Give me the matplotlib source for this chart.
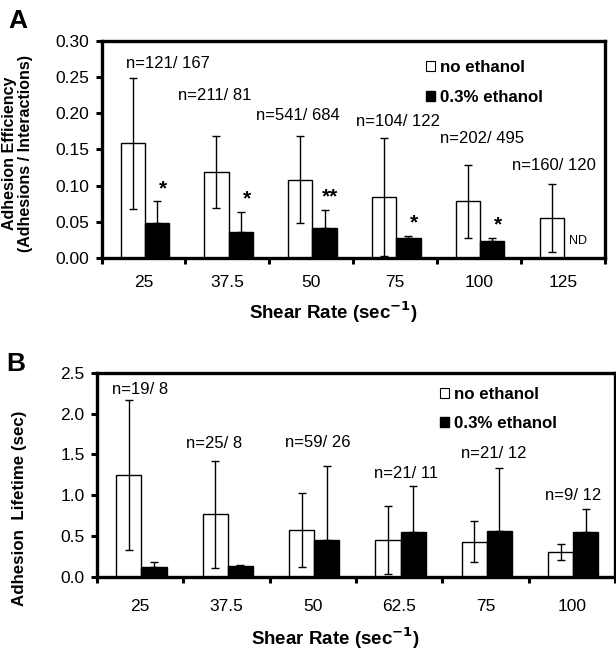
"""
Adhesion efficiency and adhesion lifetime vs shear rate, with / without ethanol
"""

import numpy as np
import matplotlib.pyplot as plt
from matplotlib.patches import Patch

plt.rcParams['font.family'] = ['Liberation Sans', 'DejaVu Sans']

# panel A - adhesion efficiency
rates_a = ['25', '37.5', '50', '75', '100', '125']
eff_none = [0.158, 0.119, 0.108, 0.084, 0.078, 0.055]
eff_none_sd = [0.090, 0.050, 0.060, 0.081, 0.050, 0.047]
eff_eth = [0.048, 0.036, 0.042, 0.027, 0.024, np.nan]
eff_eth_sd = [0.030, 0.028, 0.024, 0.003, 0.003, np.nan]
n_a = ['n=121/ 167', 'n=211/ 81', 'n=541/ 684', 'n=104/ 122', 'n=202/ 495', 'n=160/ 120']
sig_a = ['*', '*', '**', '*', '*', 'ND']

# panel B - adhesion lifetime (sec)
rates_b = ['25', '37.5', '50', '62.5', '75', '100']
life_none = [1.246, 0.764, 0.572, 0.446, 0.430, 0.300]
life_none_sd = [0.915, 0.655, 0.455, 0.415, 0.250, 0.100]
life_eth = [0.123, 0.130, 0.446, 0.544, 0.560, 0.544]
life_eth_sd = [0.053, 0.010, 0.914, 0.571, 0.770, 0.282]
n_b = ['n=19/ 8', 'n=25/ 8', 'n=59/ 26', 'n=21/ 11', 'n=21/ 12', 'n=9/ 12']

# where the n= labels sit (x offset from category, y in data units)
n_pos_a = [(0.29, 0.268), (-0.15, 0.224), (-0.16, 0.197), (0.04, 0.189), (0.04, 0.165), (-0.10, 0.128)]
n_pos_b = [(0.0, 2.30), (-0.14, 1.63), (0.06, 1.65), (0.08, 1.27), (0.10, 1.51), (0.01, 1.0)]

W = 0.29
TICKSIZE = 12.5
NSIZE = 12
XLABSIZE = 13.5
XLAB = 'Shear Rate (sec$^{\\mathbf{-1}}$)'


def draw_bars(ax, cats, none, none_sd, eth, eth_sd, spacing):
    """
    white / black bar pairs with error bars
    """
    x = np.arange(len(cats))
    ax.bar(x - 0.13, none, W, color='white', edgecolor='black', linewidth=1, zorder=2)
    ax.errorbar(x - 0.13, none, yerr=none_sd, fmt='none', ecolor='black',
                elinewidth=1, capsize=3, capthick=1, zorder=3)
    ax.bar(x + 0.16, eth, W, color='black', edgecolor='black', linewidth=1, zorder=2)
    ax.errorbar(x + 0.16, eth, yerr=[np.zeros(len(cats)), eth_sd], fmt='none',
                ecolor='black', elinewidth=1, capsize=3, capthick=1, zorder=3)

    ax.set_xlim(-0.5, len(cats) - 0.5)
    ax.set_xticks(np.arange(-0.5, len(cats)), labels=[])
    ax.set_xticks(x, labels=cats, minor=True)
    ax.tick_params(axis='x', which='major', direction='out', length=4, width=2.2)
    ax.tick_params(axis='x', which='minor', length=0, pad=12, labelsize=TICKSIZE)
    ax.tick_params(axis='y', direction='out', length=4, width=2.2, pad=5, labelsize=TICKSIZE)
    for sp in ax.spines.values():
        sp.set_linewidth(2.4)

    leg = ax.legend(handles=[Patch(facecolor='white', edgecolor='black', linewidth=0.8),
                             Patch(facecolor='black', edgecolor='black')],
                    labels=['no ethanol', '0.3% ethanol'], loc='upper left',
                    frameon=False, prop={'weight': 'bold', 'size': 12.2},
                    handlelength=0.55, handleheight=0.55, handletextpad=0.3,
                    labelspacing=spacing, borderpad=0, borderaxespad=0)
    return x, leg


fig = plt.figure(figsize=(6.16, 6.51), dpi=100)

# ---- panel A
ax_a = fig.add_axes([0.165, 0.6037, 0.8166, 0.334])
x, leg = draw_bars(ax_a, rates_a, eff_none, eff_none_sd, eff_eth, eff_eth_sd, 0.9)
leg.set_bbox_to_anchor((0.645, 0.912), transform=ax_a.transAxes)
ax_a.set_ylim(0, 0.30)
ax_a.set_yticks(np.arange(0, 0.301, 0.05))
ax_a.yaxis.set_major_formatter('{x:.2f}')
for i, lab in enumerate(n_a):
    ax_a.text(x[i] + n_pos_a[i][0], n_pos_a[i][1], lab, ha='center', va='center', fontsize=NSIZE)
for i, s in enumerate(sig_a):
    if np.isnan(eff_eth[i]):
        ax_a.text(x[i] + 0.18, 0.024, s, ha='center', va='center', fontsize=9)
    else:
        ax_a.text(x[i] + 0.23, eff_eth[i] + eff_eth_sd[i] + 0.018, s, ha='center',
                  va='center', fontsize=15, fontweight='bold')
ax_a.set_xlabel(XLAB, fontsize=XLABSIZE, fontweight='bold')
ax_a.xaxis.set_label_coords(0.46, -0.19)
ax_a.set_ylabel('Adhesion Efficiency\n(Adhesions / Interactions)', fontsize=11.5,
                fontweight='bold', linespacing=1.05)
ax_a.yaxis.set_label_coords(-0.137, 0.48)

# ---- panel B
ax_b = fig.add_axes([0.1575, 0.1141, 0.841, 0.3134])
x, leg = draw_bars(ax_b, rates_b, life_none, life_none_sd, life_eth, life_eth_sd, 0.85)
leg.set_bbox_to_anchor((0.662, 0.93), transform=ax_b.transAxes)
ax_b.set_ylim(0, 2.5)
ax_b.set_yticks(np.arange(0, 2.51, 0.5))
ax_b.yaxis.set_major_formatter('{x:.1f}')
ax_b.tick_params(axis='x', which='minor', pad=16)
for i, lab in enumerate(n_b):
    ax_b.text(x[i] + n_pos_b[i][0], n_pos_b[i][1], lab, ha='center', va='center', fontsize=NSIZE)
ax_b.set_xlabel(XLAB, fontsize=XLABSIZE, fontweight='bold')
ax_b.xaxis.set_label_coords(0.46, -0.238)
ax_b.set_ylabel('Adhesion  Lifetime (sec)', fontsize=12.2, fontweight='bold')
ax_b.yaxis.set_label_coords(-0.136, 0.337)

fig.text(0.029, 0.968, 'A', fontsize=19, fontweight='bold', ha='center', va='center')
fig.text(0.026, 0.441, 'B', fontsize=19, fontweight='bold', ha='center', va='center')

fig.savefig('out.png', dpi=100)
